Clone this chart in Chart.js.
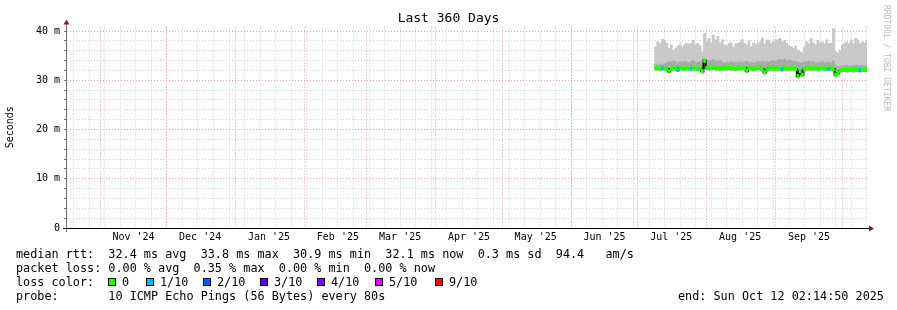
<!DOCTYPE html>
<html>
<head>
<meta charset="utf-8">
<script src="https://cdn.jsdelivr.net/npm/chart.js@4.4.1/dist/chart.umd.min.js"></script>
<style>
body { margin: 0; background: #fff; }
#wrap { position: relative; width: 897px; height: 310px; }
#myChart { position: absolute; left: 0; top: 0; }
.t { position: absolute; font-family: 'DejaVu Sans Mono', monospace; font-size: 11.8px; line-height: 14px; white-space: pre; color: #000; }
.box { position: absolute; top: 278px; width: 6px; height: 6px; border: 1px solid #000; }
#credit { position: absolute; left: 882px; top: 5px; writing-mode: vertical-rl; font: 8px 'DejaVu Sans Mono', monospace; line-height: 8px; color: #bdbdbd; white-space: pre; }
</style>
</head>
<body>
<div id="wrap">
  <canvas id="myChart" width="897" height="310"></canvas>
  <div id="credit">RRDTOOL / TOBI OETIKER</div>
  <div class="t" style="left:16px;top:247px">median rtt:  32.4 ms avg  33.8 ms max  30.9 ms min  32.1 ms now  0.3 ms sd  94.4   am/s</div>
  <div class="t" style="left:16px;top:261px">packet loss: 0.00 % avg  0.35 % max  0.00 % min  0.00 % now</div>
  <div class="t" style="left:16px;top:275px">loss color:</div>
  <div id="lossLegend"></div>
  <div class="t" style="left:16px;top:289px">probe:       10 ICMP Echo Pings (56 Bytes) every 80s</div>
  <div class="t" style="left:678px;top:289px">end: Sun Oct 12 02:14:50 2025</div>
</div>
<script>
// time axis: 360 days ending Sun Oct 12 02:14:50 2025
let startTime = Date.UTC(2024, 9, 17, 2, 14, 50);
let monthStarts = ['2024-11-01', '2024-12-01', '2025-01-01', '2025-02-01', '2025-03-01', '2025-04-01',
                   '2025-05-01', '2025-06-01', '2025-07-01', '2025-08-01', '2025-09-01', '2025-10-01'];
let monthLabels = ["Nov '24", "Dec '24", "Jan '25", "Feb '25", "Mar '25", "Apr '25",
                   "May '25", "Jun '25", "Jul '25", "Aug '25", "Sep '25"];
let firstSunday = '2024-10-20';
let yGrid = [0, 2, 4, 6, 8, 10, 12, 14, 16, 18, 20, 22, 24, 26, 28, 30, 32, 34, 36, 38, 40];

let lossLabels = ['0', '1/10', '2/10', '3/10', '4/10', '5/10', '9/10'];
let lossColors = ['#26ff00', '#00b8ff', '#0059ff', '#5e00ff', '#7e00ff', '#dd00ff', '#ff0000'];

// one value per day from Jul 9 2025 (ms)
let dataStart = '2025-07-09';
let rttMedian = [32.4, 32.4, 32.3, 32.4, 32.4, 32.3, 31.8, 32.3, 32.4, 32.4,
                 32.1, 32.4, 32.4, 32.3, 32.4, 32.4, 32.3, 32.4, 32.4, 32.3,
                 32.4, 31.8, 34.0, 32.5, 32.4, 32.4, 32.5, 32.4, 32.4, 32.3,
                 32.4, 32.4, 32.4, 32.5, 32.4, 32.4, 32.3, 32.4, 32.4, 32.4,
                 32.5, 31.9, 32.4, 32.4, 32.3, 32.4, 32.4, 32.4, 32.3, 31.6,
                 32.1, 32.4, 32.4, 32.3, 32.4, 32.4, 32.3, 32.2, 32.4, 32.4,
                 32.3, 32.4, 32.4, 32.3, 30.8, 31.9, 31.1, 32.2, 32.4, 32.4,
                 32.3, 32.4, 32.4, 32.3, 32.4, 32.4, 32.3, 32.4, 32.3, 32.4,
                 32.3, 31.1, 31.5, 31.9, 32.1, 32.1, 32.0, 32.1, 32.1, 32.0,
                 32.1, 32.1, 32.0, 32.1, 32.1, 32.1];
let smokeTop = [36.8, 37.8, 37.4, 38.3, 38.1, 37.5, 36.5, 37.2, 36.1, 36.5,
                37.0, 37.4, 36.8, 37.2, 37.5, 37.4, 37.5, 38.1, 37.2, 37.5,
                37.0, 35.8, 39.5, 37.8, 38.5, 37.5, 39.2, 38.2, 38.9, 37.6,
                38.2, 37.2, 37.0, 37.5, 37.6, 36.8, 37.4, 37.5, 37.8, 38.2,
                37.5, 37.2, 38.1, 36.8, 37.6, 37.4, 37.5, 37.8, 38.5, 37.4,
                38.2, 38.1, 37.5, 37.8, 38.2, 38.2, 38.5, 37.8, 38.1, 37.5,
                37.0, 36.8, 36.5, 37.0, 36.1, 35.8, 35.5, 36.8, 37.8, 37.4,
                38.5, 37.5, 37.2, 38.1, 37.5, 37.8, 37.4, 38.2, 37.5, 37.5,
                40.5, 35.8, 35.5, 36.1, 37.2, 37.5, 37.8, 37.4, 38.2, 37.5,
                38.5, 38.2, 37.4, 37.8, 37.5, 38.1];
let smokeMid = [33.2, 33.0, 33.3, 33.1, 33.4, 33.5, 33.8, 33.6, 33.9, 33.7,
                33.5, 33.8, 33.6, 33.9, 33.7, 33.6, 33.8, 34.0, 33.7, 33.6,
                33.8, 33.4, 34.4, 34.1, 33.9, 34.0, 34.2, 33.8, 33.9, 34.0,
                33.7, 33.6, 33.7, 33.5, 33.8, 33.6, 33.7, 33.5, 33.8, 33.6,
                33.7, 33.9, 33.6, 33.7, 33.5, 33.6, 33.8, 33.7, 33.9, 33.6,
                33.8, 33.7, 33.9, 34.0, 33.8, 34.1, 34.2, 34.0, 34.3, 33.9,
                34.1, 34.0, 33.8, 33.9, 33.7, 33.6, 33.5, 33.8, 33.7, 33.9,
                33.6, 33.8, 33.5, 33.7, 33.6, 33.8, 33.5, 33.7, 33.6, 33.5,
                33.9, 33.0, 32.8, 32.9, 33.0, 32.9, 33.1, 32.8, 33.0, 32.9,
                33.1, 33.0, 32.8, 33.0, 32.9, 33.0];
// index into lossColors
let lossLevel = [0, 0, 0, 1, 0, 0, 0, 0, 0, 0,
                 1, 0, 0, 0, 0, 0, 1, 0, 0, 0,
                 0, 0, 0, 0, 0, 0, 0, 0, 0, 0,
                 0, 0, 0, 0, 0, 0, 0, 0, 0, 0,
                 0, 0, 0, 0, 0, 0, 0, 0, 0, 0,
                 0, 0, 0, 0, 0, 0, 0, 1, 0, 0,
                 0, 0, 0, 0, 0, 0, 0, 0, 0, 0,
                 0, 0, 0, 0, 0, 0, 0, 0, 1, 0,
                 0, 0, 0, 0, 0, 0, 0, 0, 0, 0,
                 0, 0, 1, 0, 0, 0];

let DAY = 86400000;
let toDay = s => (Date.parse(s + 'T00:00:00Z') - startTime) / DAY;

let monthDays = monthStarts.map(toDay);
let labelDays = monthDays.slice(0, monthLabels.length).map(d => d + 15);
let gridDays = [];
for (let d = toDay(firstSunday); d < 360; d += 7) gridDays.push(d);
monthDays.forEach(d => gridDays.push(d));
gridDays.sort((a, b) => a - b);

let x0 = toDay(dataStart);
let xs = rttMedian.map((v, i) => x0 + i);

let red = '#eea2a2';
let gray = '#d2d2d2';

// loss legend boxes
let boxX = [108, 146, 203, 260, 317, 375, 435];
let legendHtml = '';
lossLabels.forEach((l, i) => {
    legendHtml += '<div class="box" style="left:' + boxX[i] + 'px;background:' + lossColors[i] + '"></div>' +
                  '<div class="t" style="left:' + (boxX[i] + 14) + 'px;top:275px">' + l + '</div>';
});
document.getElementById('lossLegend').innerHTML = legendHtml;

let isMonth = v => monthDays.some(d => Math.abs(d - v) < 0.01);

let axisArrows = {
    id: 'axisArrows',
    afterDraw(chart) {
        let ctx = chart.ctx;
        let a = chart.chartArea;
        let xl = Math.round(a.left) - 0.5;
        let yb = Math.round(a.bottom) + 0.5;
        ctx.save();
        ctx.lineWidth = 1;
        ctx.strokeStyle = '#707070';
        ctx.beginPath();
        ctx.moveTo(xl, a.bottom + 4);
        ctx.lineTo(xl, a.top - 3);
        ctx.stroke();
        ctx.strokeStyle = '#000';
        ctx.beginPath();
        ctx.moveTo(a.left - 4, yb);
        ctx.lineTo(a.right + 3, yb);
        ctx.stroke();
        ctx.fillStyle = '#8b1a1a';
        ctx.beginPath();
        ctx.moveTo(xl, a.top - 7);
        ctx.lineTo(xl - 3, a.top - 2);
        ctx.lineTo(xl + 3, a.top - 2);
        ctx.closePath();
        ctx.fill();
        ctx.beginPath();
        ctx.moveTo(a.right + 7, yb);
        ctx.lineTo(a.right + 2, yb - 3);
        ctx.lineTo(a.right + 2, yb + 3);
        ctx.closePath();
        ctx.fill();
        ctx.restore();
    }
};

let myChart = document.getElementById('myChart').getContext('2d');

let chart = new Chart(myChart, {
    type: 'bar',
    data: {
        datasets: [{
            label: 'smoke',
            data: xs.map((x, i) => ({ x: x, y: [rttMedian[i], smokeTop[i]] })),
            backgroundColor: '#c9c9c9',
            barPercentage: 1,
            categoryPercentage: 1,
            grouped: false,
            order: 4
        }, {
            label: 'smoke core',
            data: xs.map((x, i) => ({ x: x, y: [rttMedian[i], smokeMid[i]] })),
            backgroundColor: '#a9a9a9',
            barPercentage: 1,
            categoryPercentage: 1,
            grouped: false,
            order: 3
        }, {
            type: 'line',
            label: 'median',
            data: xs.map((x, i) => ({ x: x, y: rttMedian[i] })),
            borderColor: '#111',
            borderWidth: 2,
            pointRadius: 0,
            stepped: 'middle',
            order: 2
        }, {
            label: 'loss',
            data: xs.map((x, i) => ({ x: x, y: [rttMedian[i] - 0.35, rttMedian[i] + 0.35] })),
            backgroundColor: lossLevel.map(l => lossColors[l]),
            barPercentage: 1,
            categoryPercentage: 1,
            grouped: false,
            order: 1
        }]
    },
    plugins: [axisArrows],
    options: {
        responsive: false,
        devicePixelRatio: 1,
        animation: false,
        layout: { padding: { left: 0, right: 0, top: 0, bottom: 64 } },
        plugins: {
            legend: { display: false },
            tooltip: { enabled: false },
            title: {
                display: true,
                text: 'Last 360 Days',
                color: '#000',
                font: { family: 'DejaVu Sans Mono', size: 13, weight: 'normal' },
                padding: { top: 11, bottom: 0 }
            }
        },
        scales: {
            x: {
                type: 'linear',
                min: 0,
                max: 360,
                offset: false,
                weight: 0,
                afterBuildTicks: s => { s.ticks = gridDays.map(v => ({ value: v })); },
                ticks: { display: false },
                grid: {
                    color: c => (c.tick && isMonth(c.tick.value)) ? red : gray,
                    drawTicks: false,
                    offset: false
                },
                border: { display: false, dash: [1, 2] },
                afterFit: s => { s.height = 0; }
            },
            xl: {
                type: 'linear',
                position: 'bottom',
                min: 0,
                max: 360,
                offset: false,
                weight: 1,
                afterBuildTicks: s => { s.ticks = labelDays.map(v => ({ value: v })); },
                ticks: {
                    callback: (v, i) => monthLabels[i],
                    color: '#000',
                    font: { family: 'DejaVu Sans Mono', size: 10 },
                    padding: 3,
                    autoSkip: false,
                    maxRotation: 0
                },
                grid: { display: false, drawTicks: false, offset: false },
                border: { display: false },
                afterFit: s => { s.height = 18; }
            },
            y: {
                min: 0,
                max: 40.9,
                afterBuildTicks: s => { s.ticks = yGrid.map(v => ({ value: v })); },
                ticks: {
                    callback: v => v % 10 === 0 ? (v === 0 ? '0' : v + ' m') : '',
                    color: '#000',
                    font: { family: 'DejaVu Sans Mono', size: 10 },
                    padding: 4,
                    autoSkip: false
                },
                grid: {
                    color: c => (c.tick && c.tick.value % 10 === 0) ? red : gray,
                    drawTicks: true,
                    tickLength: 3,
                    tickColor: '#777',
                    tickBorderDash: []
                },
                border: { display: false, dash: [1, 2] },
                title: {
                    display: true,
                    text: 'Seconds',
                    color: '#000',
                    font: { family: 'DejaVu Sans Mono', size: 10 },
                    padding: { top: 4, bottom: 0 }
                },
                afterFit: s => { s.width = 67; }
            },
            yr: {
                position: 'right',
                display: true,
                min: 0,
                max: 40.9,
                ticks: { display: false },
                grid: { display: false, drawTicks: false },
                border: { display: false },
                afterFit: s => { s.width = 30; }
            }
        }
    }
});
</script>
</body>
</html>
